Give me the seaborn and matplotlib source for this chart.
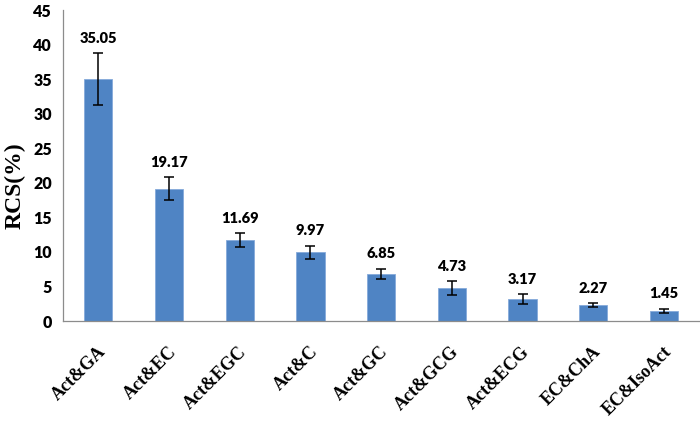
import matplotlib
matplotlib.use("Agg")
import matplotlib.pyplot as plt
import seaborn as sns
import pandas as pd
import numpy as np
from matplotlib.ticker import MultipleLocator, FixedLocator
import matplotlib.transforms as mtransforms

categories = ["Act&GA", "Act&EC", "Act&EGC", "Act&C", "Act&GC", "Act&GCG", "Act&ECG", "EC&ChA", "EC&IsoAct"]
values = [35.05, 19.17, 11.69, 9.97, 6.85, 4.73, 3.17, 2.27, 1.45]
errors = [3.75, 1.65, 1.05, 0.94, 0.72, 1.0, 0.68, 0.27, 0.32]
value_labels = ["35.05", "19.17", "11.69", "9.97", "6.85", "4.73", "3.17", "2.27", "1.45"]

sns.set_style("white")
plt.rcParams['font.family'] = ['Lato', 'DejaVu Sans']
plt.rcParams['text.color'] = 'black'
plt.rcParams['xtick.color'] = 'black'
plt.rcParams['ytick.color'] = 'black'
plt.rcParams['axes.labelcolor'] = 'black'

df = pd.DataFrame({"pair": categories, "rcs": values})

fig = plt.figure(figsize=(7, 4.21), dpi=100)
ax = fig.add_axes([0.09, 0.2375, 0.909, 0.7385])

sns.barplot(data=df, x="pair", y="rcs", color="#4F84C4", width=0.4,
            edgecolor="#85AADA", linewidth=0.6, errorbar=None, ax=ax, saturation=1)

xs = np.arange(len(categories))
ax.errorbar(xs, values, yerr=errors, fmt="none", ecolor="black",
            elinewidth=1.1, capsize=3.5, capthick=1.1)

for x, v, e, lab in zip(xs, values, errors, value_labels):
    ax.annotate(lab, (x, v + e), xytext=(0, 6), textcoords="offset points",
                ha="center", va="bottom", fontsize=10.5, fontweight="heavy", color="black")

ax.set_xlim(-0.5, len(categories) - 0.5)
ax.set_ylim(0, 45)
ax.yaxis.set_major_locator(MultipleLocator(5))

for s in ["top", "right"]:
    ax.spines[s].set_visible(False)
for s in ["left", "bottom"]:
    ax.spines[s].set_color("#8C8C8C")
    ax.spines[s].set_linewidth(0.9)

ax.tick_params(axis="y", which="major", direction="out", length=5, width=0.9,
               color="#8C8C8C", labelcolor="black", labelsize=11.5, pad=3)
for t in ax.get_yticklabels():
    t.set_fontweight("heavy")

ax.set_xticks(xs)
ax.set_xticklabels(categories)
ax.xaxis.set_minor_locator(FixedLocator(np.arange(-0.5, len(categories), 1.0)))
ax.tick_params(axis="x", which="major", length=0, pad=16, labelcolor="black")
ax.tick_params(axis="x", which="minor", direction="out", length=6, width=0.9, color="#8C8C8C")
offset = mtransforms.ScaledTranslation(-1/72, 0, fig.dpi_scale_trans)
for t in ax.get_xticklabels():
    t.set_rotation(45)
    t.set_ha("right")
    t.set_va("top")
    t.set_rotation_mode("anchor")
    t.set_fontfamily("Liberation Serif")
    t.set_fontweight("bold")
    t.set_fontsize(13)
    t.set_transform(t.get_transform() + offset)

ax.set_xlabel("")
ax.set_ylabel("RCS(%)", fontfamily="Liberation Serif", fontweight="bold", fontsize=17, color="black")
ax.yaxis.set_label_coords(-0.058, 0.434)

fig.savefig("out.png", dpi=100)
